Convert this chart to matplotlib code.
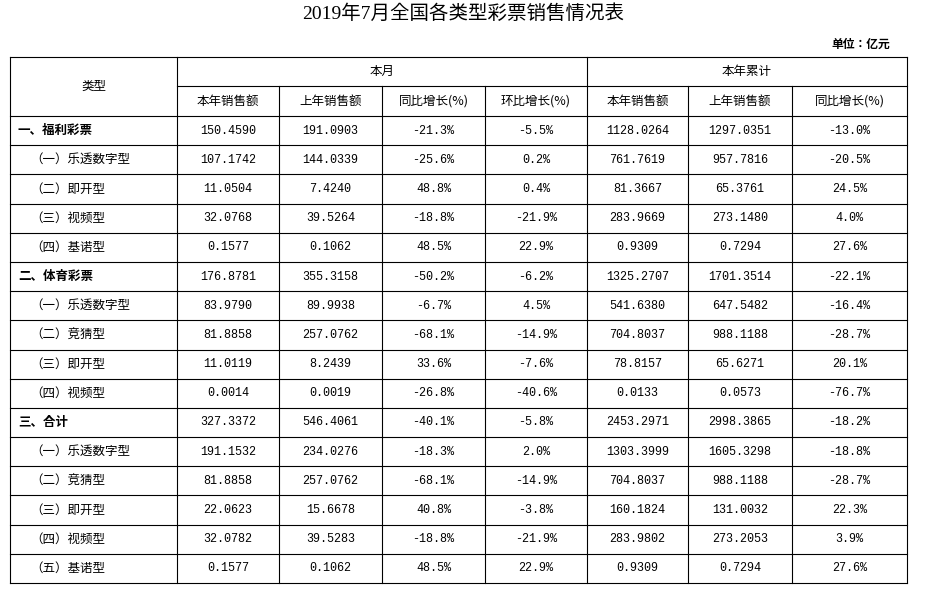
import matplotlib
matplotlib.use("Agg")
import matplotlib.pyplot as plt
from matplotlib import font_manager as fm

title = "2019年7月全国各类型彩票销售情况表"
unit = "单位：亿元"
categories = ["一、福利彩票", "（一）乐透数字型", "（二）即开型", "（三）视频型", "（四）基诺型",
              "二、体育彩票", "（一）乐透数字型", "（二）竞猜型", "（三）即开型", "（四）视频型",
              "三、合计", "（一）乐透数字型", "（二）竞猜型", "（三）即开型", "（四）视频型", "（五）基诺型"]
month_sales = ["150.4590", "107.1742", "11.0504", "32.0768", "0.1577", "176.8781", "83.9790", "81.8858",
               "11.0119", "0.0014", "327.3372", "191.1532", "81.8858", "22.0623", "32.0782", "0.1577"]
month_last = ["191.0903", "144.0339", "7.4240", "39.5264", "0.1062", "355.3158", "89.9938", "257.0762",
              "8.2439", "0.0019", "546.4061", "234.0276", "257.0762", "15.6678", "39.5283", "0.1062"]
month_yoy = ["-21.3%", "-25.6%", "48.8%", "-18.8%", "48.5%", "-50.2%", "-6.7%", "-68.1%",
             "33.6%", "-26.8%", "-40.1%", "-18.3%", "-68.1%", "40.8%", "-18.8%", "48.5%"]
month_mom = ["-5.5%", "0.2%", "0.4%", "-21.9%", "22.9%", "-6.2%", "4.5%", "-14.9%",
             "-7.6%", "-40.6%", "-5.8%", "2.0%", "-14.9%", "-3.8%", "-21.9%", "22.9%"]
ytd_sales = ["1128.0264", "761.7619", "81.3667", "283.9669", "0.9309", "1325.2707", "541.6380", "704.8037",
             "78.8157", "0.0133", "2453.2971", "1303.3999", "704.8037", "160.1824", "283.9802", "0.9309"]
ytd_last = ["1297.0351", "957.7816", "65.3761", "273.1480", "0.7294", "1701.3514", "647.5482", "988.1188",
            "65.6271", "0.0573", "2998.3865", "1605.3298", "988.1188", "131.0032", "273.2053", "0.7294"]
ytd_yoy = ["-13.0%", "-20.5%", "24.5%", "4.0%", "27.6%", "-22.1%", "-16.4%", "-28.7%",
           "20.1%", "-76.7%", "-18.2%", "-18.8%", "-28.7%", "22.3%", "3.9%", "27.6%"]
sub_headers = ["本年销售额", "上年销售额", "同比增长(%)", "环比增长(%)", "本年销售额", "上年销售额", "同比增长(%)"]

names = {f.name for f in fm.fontManager.ttflist}
cjk = [n for n in ["Noto Sans CJK SC", "Noto Sans CJK JP", "Noto Sans CJK TC", "Noto Sans CJK KR",
                   "Noto Serif CJK SC", "Droid Sans Fallback"] if n in names]
if not cjk:
    cjk = [f.name for f in fm.fontManager.ttflist if "CJK" in f.name][:1]
F = cjk + ["DejaVu Sans"]
TF = ["Liberation Serif"] + F

fig = plt.figure(figsize=(9.27, 5.97), dpi=100)
ax = fig.add_axes([0, 0, 1, 1])
ax.set_xlim(0, 927); ax.set_ylim(597, 0); ax.axis("off")

xs = [10, 177, 279, 382, 485, 587, 688, 792, 907]
top, h1, h2 = 57, 86, 116
rh = (583 - 116) / 16
ys = [h2 + i * rh for i in range(17)]
lw = 0.8
ax.plot([xs[0], xs[-1]], [top, top], color="black", lw=lw)
ax.plot([xs[1], xs[-1]], [h1, h1], color="black", lw=lw)
for y in ys:
    ax.plot([xs[0], xs[-1]], [y, y], color="black", lw=lw)
for i, x in enumerate(xs):
    y0 = top if i in (0, 1, 5, 8) else h1
    ax.plot([x, x], [y0, ys[-1]], color="black", lw=lw)

ax.text(463, 14, title, ha="center", va="center", fontsize=14, fontfamily=TF)
ax.text(890, 44, unit, ha="right", va="center", fontsize=8.5, fontfamily=F, fontweight="bold")
ax.text((xs[0] + xs[1]) / 2, (top + h2) / 2, "类型", ha="center", va="center", fontsize=9, fontfamily=F)
ax.text((xs[1] + xs[5]) / 2, (top + h1) / 2, "本月", ha="center", va="center", fontsize=9, fontfamily=F)
ax.text((xs[5] + xs[8]) / 2, (top + h1) / 2, "本年累计", ha="center", va="center", fontsize=9, fontfamily=F)
for j, s in enumerate(sub_headers):
    ax.text((xs[j + 1] + xs[j + 2]) / 2, (h1 + h2) / 2, s, ha="center", va="center", fontsize=9, fontfamily=F)

cols = [month_sales, month_last, month_yoy, month_mom, ytd_sales, ytd_last, ytd_yoy]
for i, c in enumerate(categories):
    yc = (ys[i] + ys[i + 1]) / 2
    main = c[0] in "一二三"
    ax.text(18 if main else 30, yc, c, ha="left", va="center", fontsize=9, fontfamily=F,
            fontweight="bold" if main else "normal")
    for j, col in enumerate(cols):
        ax.text((xs[j + 1] + xs[j + 2]) / 2, yc, col[i], ha="center", va="center", fontsize=8.5,
                fontfamily="Liberation Mono")

fig.savefig("out.png", dpi=100)
